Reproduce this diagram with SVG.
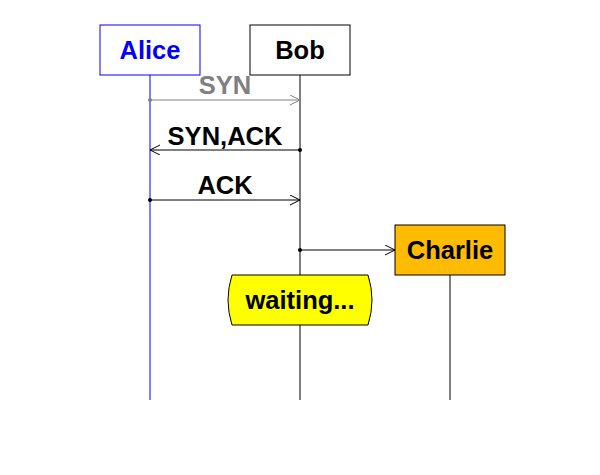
<svg xmlns="http://www.w3.org/2000/svg" width="600" height="475" viewBox="0 0 600 475">
<defs>
<style>
text{font-family:"Liberation Sans",Arial,sans-serif;font-weight:bold;font-size:25.5px;text-anchor:middle}
.ll{stroke:#000;stroke-width:1;fill:none}
.msg{stroke:#000;stroke-width:1;fill:none}
.box{stroke:#000;stroke-width:1}
</style>
<marker id="ahk" markerWidth="12" markerHeight="12" refX="10" refY="5" orient="auto" markerUnits="userSpaceOnUse" viewBox="0 0 12 12">
<path d="M0,0 L10,5 L0,10" fill="none" stroke="#000" stroke-width="1"/>
</marker>
<marker id="ahg" markerWidth="12" markerHeight="12" refX="10" refY="5" orient="auto" markerUnits="userSpaceOnUse" viewBox="0 0 12 12">
<path d="M0,0 L10,5 L0,10" fill="none" stroke="#808080" stroke-width="1"/>
</marker>
</defs>
<rect width="600" height="475" fill="#fff"/>
<g id="lifelines">
<line x1="150" y1="75" x2="150" y2="400" stroke="#0000ff" stroke-width="1"/>
<line class="ll" x1="300" y1="75" x2="300" y2="400"/>
<line class="ll" x1="450" y1="275" x2="450" y2="400"/>
</g>
<g id="connectors">
<g id="syn">
<line x1="150" y1="100" x2="300" y2="100" stroke="#808080" stroke-width="1" marker-end="url(#ahg)"/>
<circle cx="150" cy="100" r="2" fill="#808080"/>
<text x="225" y="94" fill="#808080">SYN</text>
</g>
<g id="synack">
<line class="msg" x1="300" y1="150" x2="150" y2="150" marker-end="url(#ahk)"/>
<circle cx="300" cy="150" r="2" fill="#000"/>
<text x="225" y="145" fill="#000">SYN,ACK</text>
</g>
<g id="ack">
<line class="msg" x1="150" y1="200" x2="300" y2="200" marker-end="url(#ahk)"/>
<circle cx="150" cy="200" r="2" fill="#000"/>
<text x="225" y="194" fill="#000">ACK</text>
</g>
<g id="create">
<line class="msg" x1="300" y1="250" x2="395" y2="250" marker-end="url(#ahk)"/>
<circle cx="300" cy="250" r="2" fill="#000"/>
</g>
</g>
<g id="alice">
<rect x="100" y="25" width="100" height="50" fill="#fff" stroke="#0000ff" stroke-width="1"/>
<text x="150" y="59" fill="#0000ff">Alice</text>
</g>
<g id="bob">
<rect class="box" x="250" y="25" width="100" height="50" fill="#fff"/>
<text x="300" y="59" fill="#000">Bob</text>
</g>
<g id="charlie">
<rect class="box" x="395" y="225" width="110" height="50" fill="#ffbb00"/>
<text x="450" y="259" fill="#000">Charlie</text>
</g>
<g id="waiting">
<path class="box" d="M232,275 L368,275 Q376,300 368,325 L232,325 Q224,300 232,275 Z" fill="#ffff00"/>
<text x="300" y="309" fill="#000">waiting...</text>
</g>
</svg>
